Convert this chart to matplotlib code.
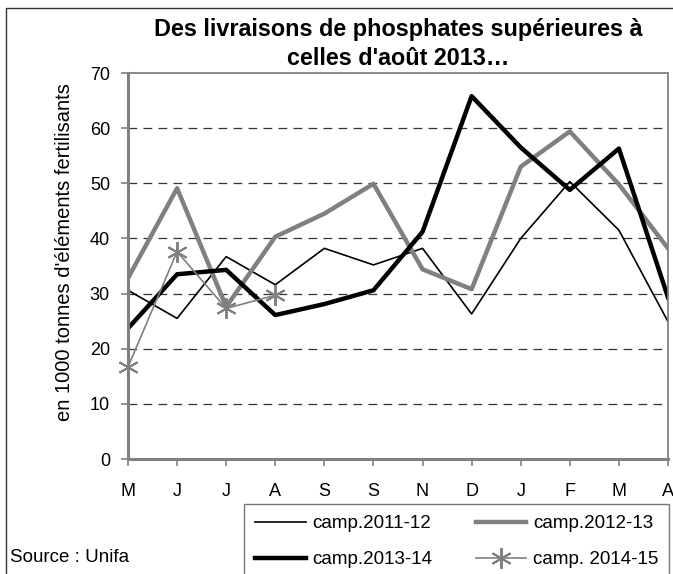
import numpy as np
import matplotlib.pyplot as plt
from matplotlib.patches import Rectangle

plt.rcParams['font.family'] = ['Liberation Sans', 'DejaVu Sans']

# mois de la campagne (mai -> avril)
mois = ['M', 'J', 'J', 'A', 'S', 'S', 'N', 'D', 'J', 'F', 'M', 'A']

camp_2011_12 = [30.6, 25.5, 36.7, 31.6, 38.2, 35.2, 38.2, 26.3, 40.0, 50.3, 41.5, 24.9]
camp_2012_13 = [32.8, 49.1, 27.6, 40.3, 44.5, 49.9, 34.4, 30.8, 53.0, 59.4, 49.8, 38.2]
camp_2013_14 = [23.7, 33.5, 34.3, 26.1, 28.1, 30.6, 41.2, 65.8, 56.5, 48.8, 56.3, 29.3]
camp_2014_15 = [16.7, 37.6, 27.3, 29.7]

gris = '#808080'

fig = plt.figure(figsize=(6.73, 5.74), dpi=100)
ax = fig.add_axes([128/673, 1 - 459/574, 540/673, 386/574])

x = np.arange(len(mois))
l1, = ax.plot(x, camp_2011_12, color='black', lw=1.2, label='camp.2011-12')
l2, = ax.plot(x, camp_2012_13, color=gris, lw=3.2, label='camp.2012-13')
l3, = ax.plot(x, camp_2013_14, color='black', lw=3.2, label='camp.2013-14')
l4, = ax.plot(x[:len(camp_2014_15)], camp_2014_15, color=gris, lw=1.2,
              marker=(6, 2, 0), markersize=15, markeredgewidth=1.4,
              label='camp. 2014-15', clip_on=False, zorder=5)

ax.set_xlim(0, 11)
ax.set_ylim(0, 70)
ax.set_xticks(x)
ax.set_xticklabels(mois)
ax.set_yticks(range(0, 71, 10))
ax.tick_params(axis='both', direction='out', length=5, color=gris, width=1.2,
               labelsize=13)
ax.tick_params(axis='x', pad=12)
ax.tick_params(axis='y', pad=8)

for y in range(10, 70, 10):
    ax.axhline(y, color='#333333', lw=0.9, ls=(0, (7, 5)), zorder=0)

for s in ['top', 'right']:
    ax.spines[s].set_color(gris)
    ax.spines[s].set_linewidth(1.3)
for s in ['left', 'bottom']:
    ax.spines[s].set_color(gris)
    ax.spines[s].set_linewidth(2.2)

ax.set_title("Des livraisons de phosphates supérieures à\ncelles d'août 2013…",
             fontsize=16.8, fontweight='bold', pad=6, linespacing=1.32)
ax.set_ylabel("en 1000 tonnes d'éléments fertilisants", fontsize=14.5)
ax.yaxis.set_label_coords(-0.1, 0.536)

# ordre des entrées : lignes 2011-12 / 2012-13 puis 2013-14 / 2014-15
leg = fig.legend([l1, l3, l2, l4], [l.get_label() for l in (l1, l3, l2, l4)],
                 loc='upper left', bbox_to_anchor=(244/673, 1 - 504/574),
                 ncol=2, fontsize=13.5, frameon=True, fancybox=False,
                 handlelength=2.7, handletextpad=0.35, columnspacing=2.3,
                 borderpad=0.6, labelspacing=1.0, borderaxespad=0)
leg.get_frame().set_edgecolor('#555555')
leg.get_frame().set_linewidth(1.0)

fig.text(10/673, 1 - 557/574, 'Source : Unifa', fontsize=13.5, va='center')

fig.patches.append(Rectangle((6/673, -0.1), 1.2, 1.1 - 8/574,
                             transform=fig.transFigure, fill=False,
                             edgecolor='#333333', lw=1.0))

fig.savefig('out.png', dpi=100)
